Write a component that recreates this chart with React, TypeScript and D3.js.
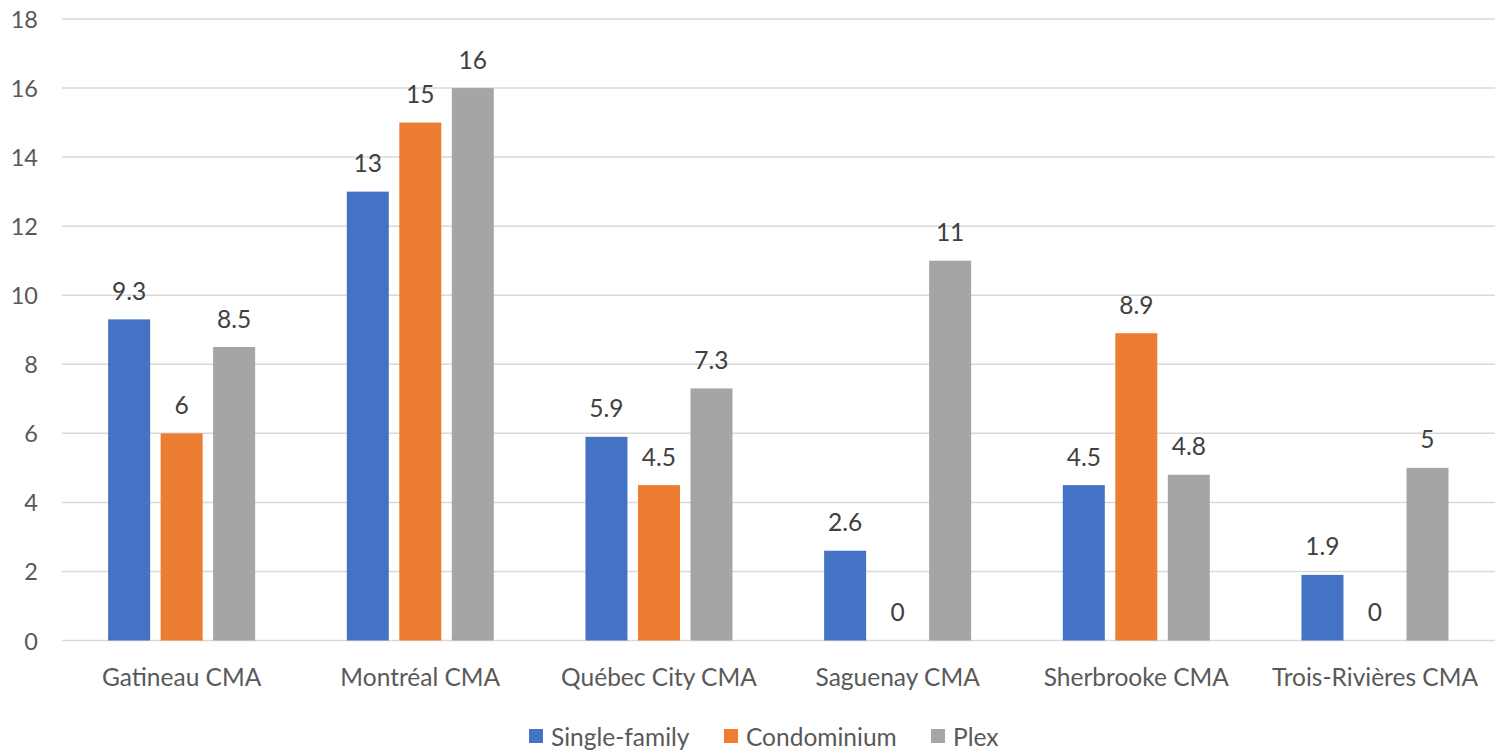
import React from "react";
import * as d3 from "d3";

const categories = ["Gatineau CMA", "Montréal CMA", "Québec City CMA", "Saguenay CMA", "Sherbrooke CMA", "Trois-Rivières CMA"];
const seriesNames = ["Single-family", "Condominium", "Plex"];
const singleFamily = [9.3, 13, 5.9, 2.6, 4.5, 1.9];
const condominium = [6, 15, 4.5, 0, 8.9, 0];
const plex = [8.5, 16, 7.3, 11, 4.8, 5];
const seriesColors = ["#4472C4", "#ED7D31", "#A5A5A5"];
const yTicks = [0, 2, 4, 6, 8, 10, 12, 14, 16, 18];

const W = 1502;
const H = 750;
const FONT = "Lato, 'Open Sans', sans-serif";

export default function App() {
  const seriesValues = [singleFamily, condominium, plex];
  const x0 = d3.scaleBand<string>().domain(categories).range([62.3, 1494.3]).paddingInner(0).paddingOuter(0);
  const x1 = d3.scaleBand<string>().domain(seriesNames).range([0, x0.bandwidth()]).paddingInner(0.2).paddingOuter(0.873);
  const y = d3.scaleLinear().domain([0, 18]).range([640.5, 19]);

  const legendItems = [
    { name: seriesNames[0], x: 529 },
    { name: seriesNames[1], x: 724 },
    { name: seriesNames[2], x: 931 },
  ];

  return (
    <div style={{ position: "absolute", left: 0, top: 0 }}>
      <svg width={W} height={H} style={{ display: "block", background: "#fff" }}>
        {yTicks.map((t) => (
          <g key={t}>
            <line x1={62} x2={1495} y1={y(t)} y2={y(t)} stroke="#d9d9d9" strokeWidth={1.5} />
            <text x={38} y={y(t)} textAnchor="end" dominantBaseline="central" fontFamily={FONT} fontSize={23.5} fill="#595959">
              {t}
            </text>
          </g>
        ))}
        {categories.map((c, ci) => (
          <g key={c} transform={`translate(${x0(c)},0)`}>
            {seriesNames.map((s, si) => {
              const v = seriesValues[si][ci];
              const bx = x1(s)!;
              return (
                <g key={s}>
                  {v > 0 && (
                    <rect x={bx} y={y(v)} width={x1.bandwidth()} height={y(0) - y(v)} fill={seriesColors[si]} />
                  )}
                  <text
                    x={bx + x1.bandwidth() / 2}
                    y={y(v) - 29}
                    textAnchor="middle"
                    dominantBaseline="central"
                    fontFamily={FONT}
                    fontSize={24.5}
                    fill="#404040"
                  >
                    {v}
                  </text>
                </g>
              );
            })}
            <text
              x={x0.bandwidth() / 2}
              y={676}
              textAnchor="middle"
              dominantBaseline="central"
              fontFamily={FONT}
              fontSize={24.5}
              fill="#595959"
            >
              {c}
            </text>
          </g>
        ))}
        {legendItems.map((l, i) => (
          <g key={l.name}>
            <rect x={l.x} y={729} width={14} height={14} fill={seriesColors[i]} />
            <text x={l.x + 22} y={736.5} dominantBaseline="central" fontFamily={FONT} fontSize={24.5} fill="#595959">
              {l.name}
            </text>
          </g>
        ))}
      </svg>
    </div>
  );
}
